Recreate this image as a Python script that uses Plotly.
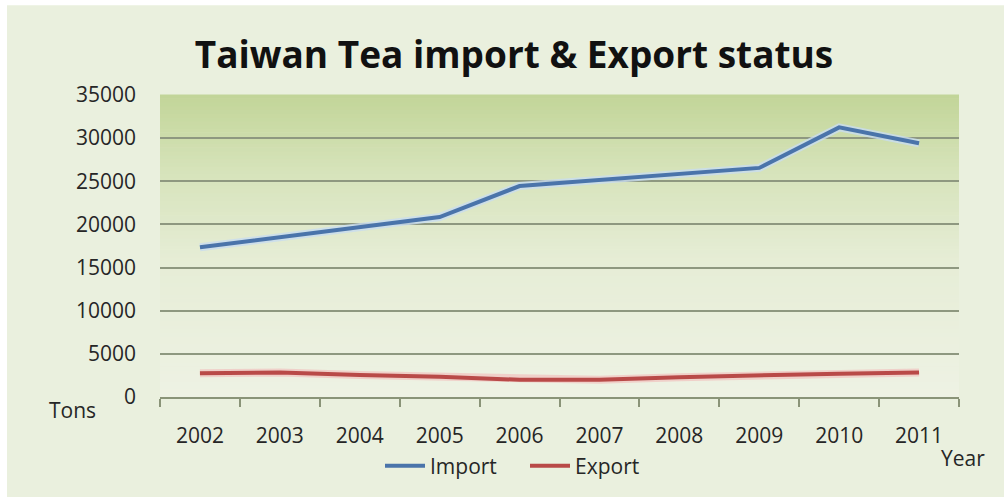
import plotly.graph_objects as go

# ---- data ----
years = ["2002", "2003", "2004", "2005", "2006", "2007", "2008", "2009", "2010", "2011"]
import_tons = [17350, 18500, 19650, 20850, 24450, 25150, 25850, 26550, 31250, 29400]
export_tons = [2750, 2850, 2550, 2350, 2000, 2000, 2300, 2550, 2700, 2850]
y_ticks = [0, 5000, 10000, 15000, 20000, 25000, 30000, 35000]
y_labels = ["0", "5000", "10000", "15000", "20000", "25000", "30000", "35000"]

# ---- layout geometry (pixels) ----
W, H = 1004, 497
L, R, T, B = 160, 45, 95, 99
PW, PH = W - L - R, H - T - B

def px_x(p):
    return (p - L) / PW

def px_y(p):
    return (H - B - p) / PH

FONT = "Open Sans"
TXT = "#262626"

fig = go.Figure()

# halos behind lines
fig.add_trace(go.Scatter(x=years, y=import_tons, mode="lines",
                         line=dict(color="rgba(200,220,240,0.8)", width=8),
                         showlegend=False, hoverinfo="skip"))
fig.add_trace(go.Scatter(x=years, y=export_tons, mode="lines",
                         line=dict(color="rgba(240,200,195,0.8)", width=8),
                         showlegend=False, hoverinfo="skip"))
fig.add_trace(go.Scatter(x=years, y=import_tons, mode="lines", name="Import",
                         line=dict(color="#4A74AA", width=4)))
fig.add_trace(go.Scatter(x=years, y=export_tons, mode="lines", name="Export",
                         line=dict(color="#B94A48", width=4)))

shapes = []
# page background with thin white border top/left
shapes.append(dict(type="rect", xref="paper", yref="paper",
                   x0=px_x(7), x1=px_x(W + 5), y0=px_y(H + 5), y1=px_y(5),
                   fillcolor="#EAF0DE", line=dict(width=0), layer="below"))

# vertical gradient in plot area
stops = [(0.0, (0xEE, 0xF2, 0xE4)), (0.45, (0xE6, 0xED, 0xD6)),
         (0.75, (0xD6, 0xE3, 0xBA)), (1.0, (0xC2, 0xD5, 0x98))]

def grad(t):
    for (a, ca), (b, cb) in zip(stops[:-1], stops[1:]):
        if a <= t <= b:
            f = (t - a) / (b - a)
            return "rgb(%d,%d,%d)" % tuple(round(ca[i] + (cb[i] - ca[i]) * f) for i in range(3))
    return "rgb(%d,%d,%d)" % stops[-1][1]

N = 80
for i in range(N):
    shapes.append(dict(type="rect", xref="x domain", yref="y domain",
                       x0=0, x1=1, y0=i / N, y1=(i + 1) / N + 0.002,
                       fillcolor=grad((i + 0.5) / N), line=dict(width=0), layer="below"))

fig.update_layout(
    width=W, height=H,
    margin=dict(l=L, r=R, t=T, b=B, pad=0),
    paper_bgcolor="white",
    plot_bgcolor="rgba(0,0,0,0)",
    shapes=shapes,
    title=dict(text="<b>Taiwan Tea import &amp; Export status</b>",
               font=dict(family=FONT, size=37, color="#111111"),
               x=514 / W, xanchor="center", xref="container",
               y=1 - 55 / H, yanchor="middle", yref="container"),
    xaxis=dict(type="category", range=[-0.5, 9.5], tickson="boundaries",
               ticks="outside", ticklen=8, tickwidth=1.5, tickcolor="#8A9478",
               showline=True, linecolor="#8A9478", linewidth=2,
               showgrid=False, ticklabelstandoff=19,
               tickfont=dict(family=FONT, size=21, color=TXT)),
    yaxis=dict(range=[0, 35000], tickvals=y_ticks, ticktext=y_labels,
               showgrid=True, gridcolor="#8E9880", gridwidth=2,
               zeroline=False, showline=False, ticks="",
               ticklabelstandoff=23,
               tickfont=dict(family=FONT, size=21, color=TXT)),
    legend=dict(orientation="h", x=px_x(380), xanchor="left",
                y=px_y(466), yanchor="middle",
                font=dict(family=FONT, size=21, color=TXT),
                bgcolor="rgba(0,0,0,0)", itemwidth=40, tracegroupgap=0,
                entrywidth=90, entrywidthmode="pixels"),
    annotations=[
        dict(text="Tons", xref="paper", yref="paper", x=px_x(72), y=px_y(411),
             xanchor="center", yanchor="middle", showarrow=False,
             font=dict(family=FONT, size=21, color=TXT)),
        dict(text="Year", xref="paper", yref="paper", x=px_x(963), y=px_y(459),
             xanchor="center", yanchor="middle", showarrow=False,
             font=dict(family=FONT, size=21, color=TXT)),
    ],
    showlegend=True,
)

fig.write_html("out.html")
